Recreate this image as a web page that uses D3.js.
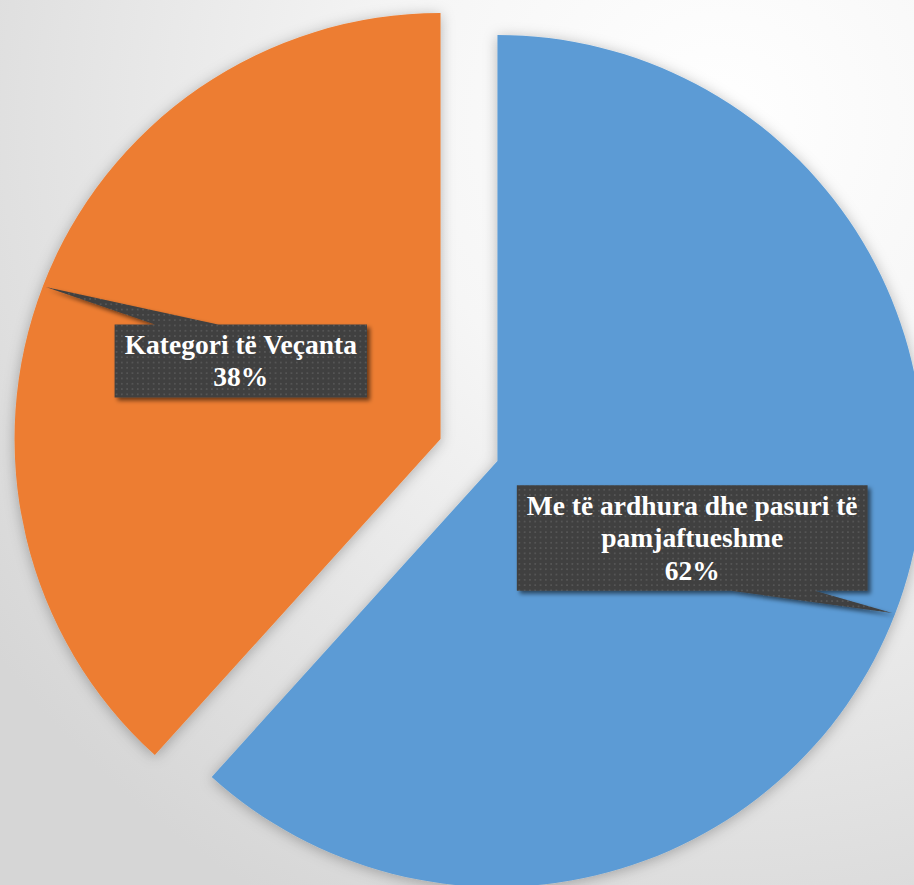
<!DOCTYPE html>
<html lang="sq">
<head>
    <meta charset="UTF-8">
    <title>Pie</title>
    <script src="https://d3js.org/d3.v7.min.js"></script>
    <style>
        body { margin: 0; padding: 0; overflow: hidden; }
        .lbl {
            font-family: "Liberation Serif", "Tinos", "Times New Roman", "DejaVu Serif", serif;
            font-weight: bold;
            font-size: 27.5px;
            fill: #fff;
            text-anchor: middle;
        }
    </style>
</head>
<body>
<div id="chart"></div>
<script>
    // te dhenat
    var categories = ["Me të ardhura dhe pasuri të pamjaftueshme", "Kategori të Veçanta"];
    var nameLines = [["Me të ardhura dhe pasuri të", "pamjaftueshme"], ["Kategori të Veçanta"]];
    var values = [61.7, 38.3];
    var colors = ["#5b9bd5", "#ed7d31"];

    var width = 914, height = 885;
    var cx = 469, cy = 450, radius = 426, explode = 30.5;

    var svg = d3.select("#chart").append("svg")
        .attr("width", width)
        .attr("height", height);

    var defs = svg.append("defs");

    // sfondi
    var bg = defs.append("radialGradient").attr("id", "bg")
        .attr("gradientUnits", "userSpaceOnUse")
        .attr("cx", 720).attr("cy", 120).attr("r", 900);
    bg.append("stop").attr("offset", "0").attr("stop-color", "#ffffff");
    bg.append("stop").attr("offset", "0.35").attr("stop-color", "#f6f6f6");
    bg.append("stop").attr("offset", "1").attr("stop-color", "#d6d6d6");

    var sh = defs.append("filter").attr("id", "shadow")
        .attr("x", "-20%").attr("y", "-20%").attr("width", "140%").attr("height", "140%");
    sh.append("feDropShadow").attr("dx", 0).attr("dy", 2).attr("stdDeviation", 7)
        .attr("flood-color", "#000").attr("flood-opacity", 0.28);

    var bsh = defs.append("filter").attr("id", "boxShadow")
        .attr("x", "-10%").attr("y", "-20%").attr("width", "130%").attr("height", "150%");
    bsh.append("feDropShadow").attr("dx", 3).attr("dy", 3).attr("stdDeviation", 2)
        .attr("flood-color", "#000").attr("flood-opacity", 0.55);

    var pat = defs.append("pattern").attr("id", "dots")
        .attr("patternUnits", "userSpaceOnUse")
        .attr("width", 5.3).attr("height", 5.3);
    pat.append("rect").attr("width", 5.3).attr("height", 5.3).attr("fill", "#404040");
    pat.append("circle").attr("cx", 2.65).attr("cy", 2.65).attr("r", 0.9).attr("fill", "#5a5a5a");

    svg.append("rect").attr("width", width).attr("height", height).attr("fill", "url(#bg)");

    var pie = d3.pie().sort(null).value(function(d) { return d; });
    var arc = d3.arc().innerRadius(0).outerRadius(radius);
    var arcs = pie(values);

    function mid(d) { return (d.startAngle + d.endAngle) / 2; }
    function offset(d, r) {
        var a = mid(d);
        return [Math.sin(a) * r, -Math.cos(a) * r];
    }

    var g = svg.append("g").attr("transform", "translate(" + cx + "," + cy + ")");

    g.selectAll("path.slice")
        .data(arcs)
        .enter().append("path")
        .attr("class", "slice")
        .attr("fill", function(d, i) { return colors[i]; })
        .attr("filter", "url(#shadow)")
        .attr("transform", function(d) { var o = offset(d, explode); return "translate(" + o[0] + "," + o[1] + ")"; })
        .attr("d", arc);

    // etiketat
    var lineH = 32.5, padX = 10, padY = 4;
    var boxShift = [[-200, -75], [195, 74]];

    arcs.forEach(function(d, i) {
        var o = offset(d, explode);
        var t = offset(d, radius - 3);
        var tip = [o[0] + t[0], o[1] + t[1]];
        var lines = nameLines[i].concat([Math.round(d.value) + "%"]);

        var lg = g.append("g");
        var box = lg.append("path").attr("fill", "url(#dots)").attr("filter", "url(#boxShadow)");

        var text = lg.append("text").attr("class", "lbl");
        lines.forEach(function(s, k) {
            text.append("tspan").attr("x", 0).attr("y", k * lineH).text(s);
        });
        var bb = text.node().getBBox();
        var w = bb.width + padX * 2;
        var h = lines.length * lineH + padY * 2;

        var bcx = tip[0] + boxShift[i][0], bcy = tip[1] + boxShift[i][1];
        var left = bcx - w / 2, top = bcy - h / 2, right = left + w, bottom = top + h;
        text.attr("transform", "translate(" + bcx + "," + (top + padY + lineH * 0.78) + ")");

        var p = d3.path();
        if (tip[1] < top) {
            // shigjeta nga lart, majtas
            p.moveTo(left, top);
            p.lineTo(left + w * 0.16, top);
            p.lineTo(tip[0], tip[1]);
            p.lineTo(left + w * 0.41, top);
            p.lineTo(right, top);
            p.lineTo(right, bottom);
            p.lineTo(left, bottom);
        } else {
            // shigjeta nga poshte, djathtas
            p.moveTo(left, top);
            p.lineTo(right, top);
            p.lineTo(right, bottom);
            p.lineTo(right - w * 0.15, bottom);
            p.lineTo(tip[0], tip[1]);
            p.lineTo(right - w * 0.39, bottom);
            p.lineTo(left, bottom);
        }
        p.closePath();
        box.attr("d", p.toString());
    });
</script>
</body>
</html>
